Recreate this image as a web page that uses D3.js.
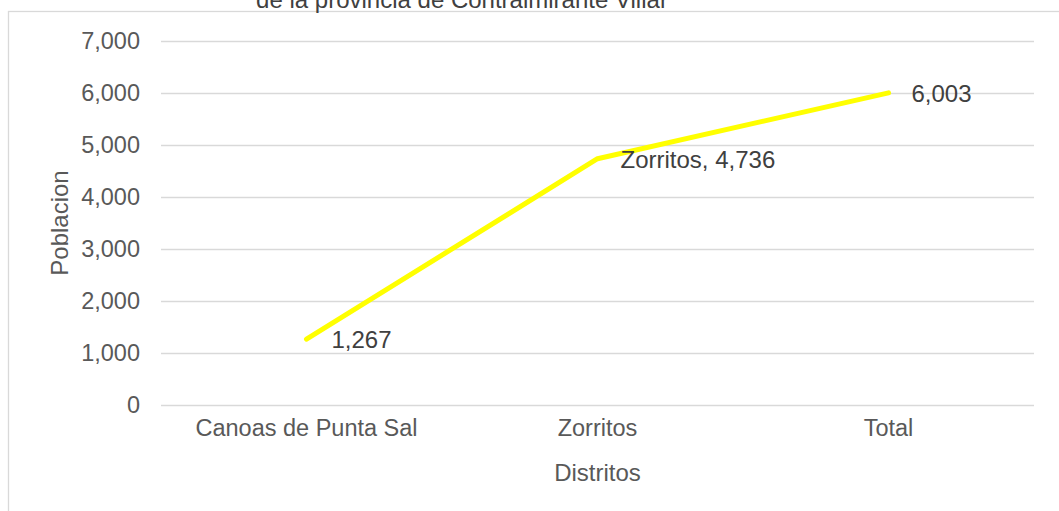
<!DOCTYPE html>
<html>
<head>
<meta charset="utf-8">
<script src="https://cdn.jsdelivr.net/npm/d3@7"></script>
<style>
  body { margin: 0; background: #fff; }
  svg text { font-family: "Liberation Sans", Arial, sans-serif; fill: #595959; }
</style>
</head>
<body>
<svg id="chart" width="1059" height="511"></svg>
<script>
// data
const categories = ["Canoas de Punta Sal", "Zorritos", "Total"];
const poblacion = [1267, 4736, 6003];
const labels = ["1,267", "Zorritos, 4,736", "6,003"];
const yTicks = [0, 1000, 2000, 3000, 4000, 5000, 6000, 7000];

let config = { margin: {} };
config.margin.top = 41;
config.margin.left = 161;
config.width = 873;
config.height = 364;

let svg = d3.select("#chart");

// chart frame
svg.append("rect")
  .attr("x", 8.5).attr("y", 11.5)
  .attr("width", 1100).attr("height", 600)
  .style("fill", "none")
  .style("stroke", "#d9d9d9")
  .style("stroke-width", 1.3);

// title (first line is cut off above)
svg.append("text")
  .attr("x", 462).attr("y", 8)
  .style("text-anchor", "middle")
  .style("font-size", "24px")
  .style("fill", "#404040")
  .text("de la provincia de Contralmirante Villar");

let x = d3.scaleBand()
  .domain(categories)
  .range([0, config.width]);

let y = d3.scaleLinear()
  .domain([0, 7000])
  .range([config.height, 0]);

let g = svg.append("g")
  .attr("transform", `translate(${config.margin.left}, ${config.margin.top})`);

// gridlines
g.append("g")
  .selectAll("line")
  .data(yTicks)
  .enter()
  .append("line")
  .attr("x1", 0).attr("x2", config.width)
  .attr("y1", d => Math.round(y(d)) + 0.5)
  .attr("y2", d => Math.round(y(d)) + 0.5)
  .style("stroke", "#d9d9d9")
  .style("stroke-width", 1.3);

// y axis labels
let yaxis = d3.axisLeft(y)
  .tickValues(yTicks)
  .tickFormat(d3.format(","))
  .tickSize(0)
  .tickPadding(21);

g.append("g")
  .call(yaxis)
  .call(s => s.select(".domain").remove())
  .selectAll("text")
  .style("font-size", "23.5px")
  .style("font-family", "Liberation Sans, Arial, sans-serif");

// x axis labels
let xaxis = d3.axisBottom(x)
  .tickSize(0)
  .tickPadding(14);

g.append("g")
  .attr("transform", `translate(0, ${config.height})`)
  .call(xaxis)
  .call(s => s.select(".domain").remove())
  .selectAll("text")
  .style("font-size", "23.5px")
  .style("font-family", "Liberation Sans, Arial, sans-serif");

// axis titles
svg.append("text")
  .attr("transform", "translate(68, 223) rotate(-90)")
  .style("text-anchor", "middle")
  .style("font-size", "24px")
  .text("Poblacion");

svg.append("text")
  .attr("x", config.margin.left + config.width / 2)
  .attr("y", 481)
  .style("text-anchor", "middle")
  .style("font-size", "24px")
  .text("Distritos");

// line
let line = d3.line()
  .x((d, i) => x(categories[i]) + x.bandwidth() / 2)
  .y(d => y(d));

g.append("path")
  .datum(poblacion)
  .attr("d", line)
  .style("fill", "none")
  .style("stroke", "#ffff00")
  .style("stroke-width", 5)
  .style("stroke-linecap", "round")
  .style("stroke-linejoin", "round");

// data labels
g.append("g")
  .selectAll("text")
  .data(poblacion)
  .enter()
  .append("text")
  .attr("x", (d, i) => x(categories[i]) + x.bandwidth() / 2 + (i === 0 ? 25 : 23))
  .attr("y", d => y(d) + 9)
  .style("font-size", "24px")
  .style("fill", "#404040")
  .text((d, i) => labels[i]);
</script>
</body>
</html>
